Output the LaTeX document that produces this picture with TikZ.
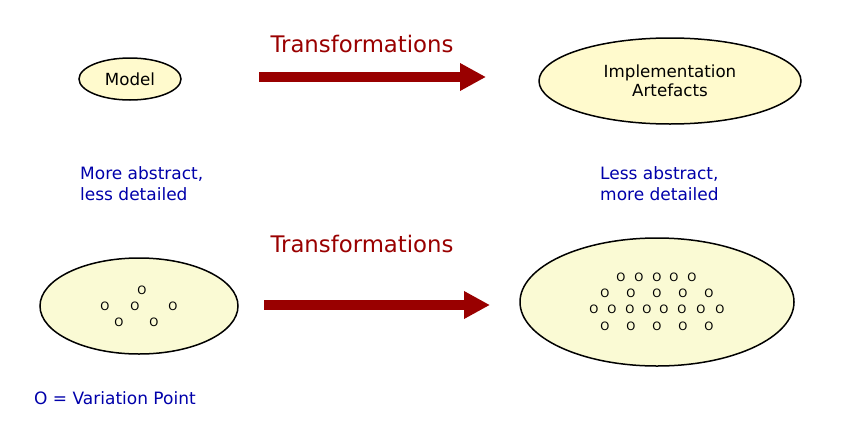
\documentclass[tikz,border=0pt]{standalone}
\usepackage{fontspec}
\setmainfont{DejaVu Sans}
\usetikzlibrary{shapes.geometric,arrows.meta}
\definecolor{darkred}{RGB}{153,0,0}
\definecolor{absblue}{RGB}{0,0,170}
\definecolor{topfill}{RGB}{255,250,205}
\definecolor{botfill}{RGB}{250,250,212}
\tikzset{
  oval/.style={ellipse, draw=black, line width=1.5pt, inner sep=0pt},
  bigarrow/.style={draw=darkred, line width=10.5pt, line cap=butt, -{Triangle[length=26pt,width=26pt]}},
  transtext/.style={text=darkred, font=\fontsize{22.8}{26}\selectfont, anchor=base, inner sep=0pt},
  bluetext/.style={text=absblue, font=\fontsize{17}{20.5}\selectfont, align=left, anchor=base west, inner sep=0pt},
  vp/.style={font=\fontsize{11.5}{12}\selectfont, inner sep=0pt},
  labeltext/.style={font=\fontsize{16.7}{19.5}\selectfont, align=center}
}
\begin{document}
\begin{tikzpicture}[x=1pt,y=-1pt]
\useasboundingbox (0,0) rectangle (842,423);
% top row
\node[oval, fill=topfill, minimum width=102, minimum height=42, labeltext] (model) at (130,79) {Model};
\node[oval, fill=topfill, minimum width=262, minimum height=86, labeltext] (impl) at (670,81) {Implementation\\Artefacts};
\coordinate (a1s) at (259,77);
\coordinate (a1e) at (486,77);
\draw[bigarrow] (a1s) -- (a1e);
\node[transtext] (t1) at (362,52) {Transformations};
\node[bluetext] (more) at (80,200) {More abstract,\\less detailed};
\node[bluetext] (less) at (600,200) {Less abstract,\\more detailed};
% bottom row
\node[oval, fill=botfill, minimum width=198, minimum height=96] (vl) at (139,306) {};
\node[oval, fill=botfill, minimum width=274, minimum height=128] (vr) at (657,302) {};
\coordinate (a2s) at (264,305);
\coordinate (a2e) at (490,305);
\draw[bigarrow] (a2s) -- (a2e);
\node[transtext] (t2) at (362,252) {Transformations};
\node[bluetext] (legend) at (34,404) {O = Variation Point};
% variation points left
\foreach \x/\y [count=\i] in {142/290,105/306,135/306,173/306,119/322,154/322}
  \node[vp] (l\i) at (\x,\y) {O};
% variation points right
\foreach \x/\y [count=\i] in {
  621/277,639/277,657/277,674/277,692/277,
  605/293,631/293,657/293,683/293,709/293,
  594/309,612/309,630/309,647/309,664/309,682/309,701/309,720/309,
  605/326,631/326,657/326,683/326,709/326}
  \node[vp] (r\i) at (\x,\y) {O};
\end{tikzpicture}
\end{document}
